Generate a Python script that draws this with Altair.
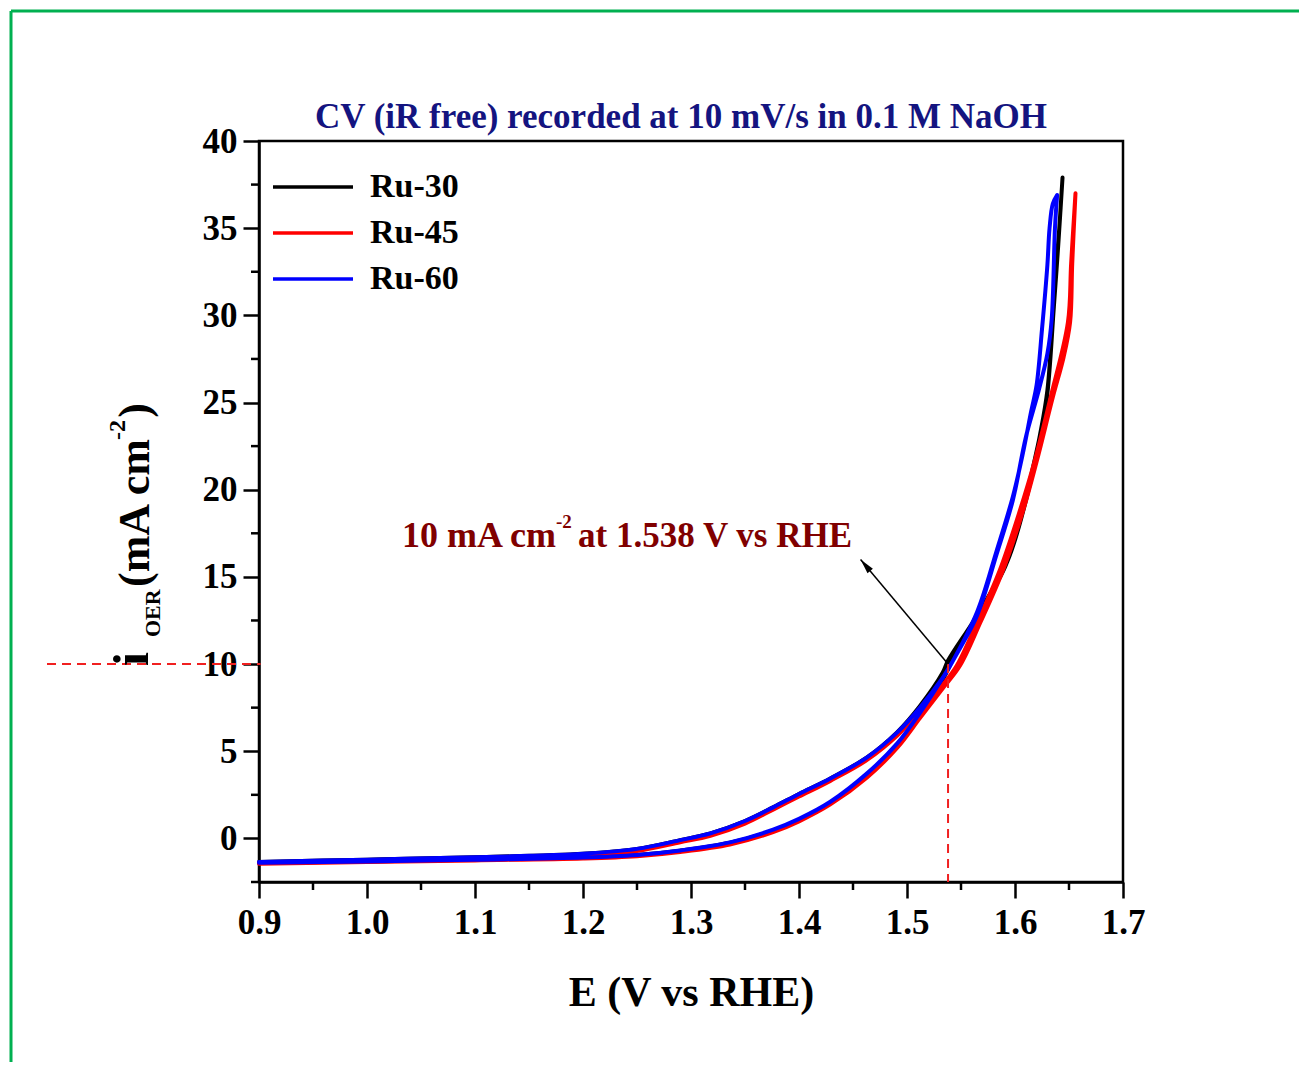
import altair as alt
import pandas as pd

# ---------------- data ----------------
series = ["Ru-30", "Ru-45", "Ru-60"]
colors = ["#000000", "#ff0000", "#0000ff"]

# Ru-30 (black): forward (lower) branch then reverse (upper) branch
ru30_E_fwd = [0.90, 1.00, 1.10, 1.20, 1.25, 1.29, 1.336, 1.376, 1.40, 1.429, 1.463, 1.491, 1.512, 1.533, 1.545, 1.565, 1.593, 1.611, 1.623, 1.630, 1.637, 1.641, 1.644]
ru30_i_fwd = [-1.40, -1.32, -1.22, -1.10, -0.95, -0.70, -0.25, 0.45, 1.07, 2.02, 3.65, 5.40, 7.10, 9.10, 10.6, 12.8, 15.9, 19.6, 23.1, 25.7, 31.9, 35.0, 37.9]
ru30_E_rev = [1.644, 1.640, 1.636, 1.629, 1.621, 1.609, 1.591, 1.563, 1.538, 1.533, 1.512, 1.491, 1.463, 1.429, 1.40, 1.376, 1.35, 1.318, 1.29, 1.25, 1.20, 1.10, 1.00, 0.90]
ru30_i_rev = [37.9, 34.0, 30.5, 25.0, 22.5, 19.3, 15.6, 12.6, 10.2, 9.5, 7.6, 6.1, 4.65, 3.44, 2.55, 1.78, 1.00, 0.29, -0.10, -0.60, -0.88, -1.08, -1.22, -1.35]

# Ru-45 (red)
ru45_E_fwd = [0.90, 1.00, 1.10, 1.20, 1.25, 1.29, 1.336, 1.376, 1.40, 1.429, 1.463, 1.491, 1.512, 1.533, 1.549, 1.568, 1.589, 1.608, 1.620, 1.635, 1.645, 1.651, 1.653, 1.656]
ru45_i_fwd = [-1.45, -1.36, -1.26, -1.15, -1.02, -0.78, -0.35, 0.36, 0.98, 1.95, 3.50, 5.20, 6.90, 8.60, 9.90, 12.4, 15.4, 18.9, 21.6, 25.3, 27.6, 29.6, 33.0, 37.0]
ru45_E_rev = [1.656, 1.652, 1.649, 1.633, 1.618, 1.605, 1.586, 1.565, 1.546, 1.533, 1.512, 1.491, 1.463, 1.429, 1.40, 1.376, 1.35, 1.318, 1.29, 1.25, 1.20, 1.10, 1.00, 0.90]
ru45_i_rev = [37.0, 33.0, 29.6, 25.3, 21.6, 18.9, 15.4, 12.4, 9.9, 8.8, 7.3, 5.9, 4.5, 3.3, 2.4, 1.65, 0.85, 0.15, -0.22, -0.72, -1.00, -1.18, -1.30, -1.40]

# Ru-60 (blue)
ru60_E_fwd = [0.90, 1.00, 1.10, 1.20, 1.25, 1.29, 1.336, 1.376, 1.40, 1.429, 1.463, 1.491, 1.512, 1.533, 1.55, 1.565, 1.583, 1.598, 1.610, 1.622, 1.630, 1.634, 1.637, 1.639]
ru60_i_fwd = [-1.40, -1.32, -1.22, -1.10, -0.95, -0.69, -0.23, 0.50, 1.12, 2.10, 3.73, 5.45, 7.20, 9.20, 11.0, 12.8, 16.3, 19.4, 23.0, 25.7, 27.8, 29.8, 35.0, 36.9]
ru60_E_rev = [1.639, 1.635, 1.632, 1.630, 1.625, 1.620, 1.615, 1.607, 1.598, 1.583, 1.565, 1.540, 1.533, 1.512, 1.491, 1.463, 1.429, 1.40, 1.376, 1.35, 1.318, 1.29, 1.25, 1.20, 1.15, 1.10, 1.00, 0.90]
ru60_i_rev = [36.9, 36.4, 35.0, 32.9, 29.2, 26.0, 24.5, 22.0, 19.6, 16.5, 13.0, 9.9, 9.2, 7.5, 6.08, 4.65, 3.44, 2.55, 1.78, 1.00, 0.29, -0.10, -0.60, -0.88, -1.00, -1.08, -1.22, -1.35]

x_major = [0.9, 1.0, 1.1, 1.2, 1.3, 1.4, 1.5, 1.6, 1.7]
x_minor = [0.95, 1.05, 1.15, 1.25, 1.35, 1.45, 1.55, 1.65]
y_major = [0, 5, 10, 15, 20, 25, 30, 35, 40]
y_minor = [-2.5, 2.5, 7.5, 12.5, 17.5, 22.5, 27.5, 32.5, 37.5]

ref_E = 1.538
ref_i = 10
arrow_E = 1.457
arrow_i = 16.0

title_text = "CV (iR free) recorded at 10 mV/s in 0.1 M NaOH"
x_title = "E (V vs RHE)"

# ---------------- build table ----------------
rows = []
for name, Ef, If, Er, Ir in [
    ("Ru-30", ru30_E_fwd, ru30_i_fwd, ru30_E_rev, ru30_i_rev),
    ("Ru-45", ru45_E_fwd, ru45_i_fwd, ru45_E_rev, ru45_i_rev),
    ("Ru-60", ru60_E_fwd, ru60_i_fwd, ru60_E_rev, ru60_i_rev),
]:
    k = 0
    for e, v in zip(Ef + Er, If + Ir):
        rows.append({"series": name, "order": k, "E": e, "i": v})
        k += 1
df = pd.DataFrame(rows)

FONT = "Liberation Serif"
W, H = 864, 741

xscale = alt.Scale(domain=[0.9, 1.7], nice=False, zero=False)
yscale = alt.Scale(domain=[-2.5, 40], nice=False, zero=False)

lines = alt.Chart(df).mark_line(strokeWidth=4, strokeJoin="round", strokeCap="round",
                                interpolate="catmull-rom").encode(
    x=alt.X("E:Q", scale=xscale,
            axis=alt.Axis(values=x_major, format=".1f", title=x_title, labelPadding=7,
                          labelFlush=False, titlePadding=32)),
    y=alt.Y("i:Q", scale=yscale,
            axis=alt.Axis(values=y_major, format="d", title=None, labelPadding=6,
                          labelFlush=False)),
    color=alt.Color("series:N", scale=alt.Scale(domain=series, range=colors),
                    legend=alt.Legend(orient="none", legendX=37, legendY=29, title=None,
                                      symbolType="M-4,0L4,0", symbolSize=400,
                                      symbolStrokeWidth=3.5, labelFont=FONT,
                                      labelFontSize=34, labelFontWeight="bold",
                                      labelColor="black", labelOffset=40,
                                      rowPadding=12, padding=0)),
    order=alt.Order("order:Q"),
    detail="series:N",
)

ymin_df = pd.DataFrame({"i": y_minor})
xmin_df = pd.DataFrame({"E": x_minor})
one = pd.DataFrame({"a": [0]})

y_minor_ticks = alt.Chart(ymin_df).mark_rule(color="black", strokeWidth=2.5).encode(
    y=alt.Y("i:Q", title=None), x=alt.value(-8), x2=alt.value(0))
x_minor_ticks = alt.Chart(xmin_df).mark_rule(color="black", strokeWidth=2.5).encode(
    x=alt.X("E:Q", title=x_title), y=alt.value(H), y2=alt.value(H + 8))

dash_h = alt.Chart(one).mark_rule(color="#f02020", strokeWidth=2, strokeDash=[9, 6]).encode(
    x=alt.value(-212), x2=alt.datum(ref_E), y=alt.datum(ref_i))
dash_v = alt.Chart(one).mark_rule(color="#f02020", strokeWidth=2, strokeDash=[9, 6]).encode(
    x=alt.datum(ref_E), y=alt.datum(ref_i), y2=alt.value(H))

arrow_line = alt.Chart(one).mark_rule(color="black", strokeWidth=1.5).encode(
    x=alt.datum(ref_E), y=alt.datum(ref_i), x2=alt.datum(arrow_E), y2=alt.datum(arrow_i))
arrow_head = alt.Chart(one).mark_point(
    shape="M0,0L-0.35,1.5L0.35,1.5Z", filled=True, color="black", size=400, angle=320, opacity=1
).encode(x=alt.datum(arrow_E), y=alt.datum(arrow_i))

ANN = "#800000"
ann1 = alt.Chart(one).mark_text(text="10 mA cm", font=FONT, fontSize=36, fontWeight="bold",
                                color=ANN, align="left", baseline="alphabetic").encode(
    x=alt.value(143), y=alt.value(406))
ann2 = alt.Chart(one).mark_text(text="-2", font=FONT, fontSize=19, fontWeight="bold",
                                color=ANN, align="left", baseline="alphabetic").encode(
    x=alt.value(297), y=alt.value(387))
ann3 = alt.Chart(one).mark_text(text="at 1.538 V vs RHE", font=FONT, fontSize=35, fontWeight="bold",
                                color=ANN, align="right", baseline="alphabetic").encode(
    x=alt.value(593), y=alt.value(406))

title_mark = alt.Chart(one).mark_text(text=title_text, font=FONT, fontSize=35, fontWeight="bold",
                                      color="#141480", align="center", baseline="alphabetic").encode(
    x=alt.value(422), y=alt.value(-13))

# y-axis title pieces (rotated)
def ytxt(t, size, x, y, align):
    return alt.Chart(one).mark_text(text=t, font=FONT, fontSize=size, fontWeight="bold",
                                    color="black", align=align, baseline="alphabetic",
                                    angle=270).encode(x=alt.value(x), y=alt.value(y))

yt1 = ytxt("i", 50, -111, 525, "left")
yt2 = ytxt("OER", 22, -99, 496, "left")
yt3 = ytxt("(mA cm", 44, -110, 446, "left")
yt4 = ytxt("-2", 24, -134, 299, "left")
yt5 = ytxt(")", 44, -110, 262, "right")

GREEN = "#00b050"
green_top = alt.Chart(one).mark_rule(color=GREEN, strokeWidth=3).encode(
    x=alt.value(-248), x2=alt.value(1048), y=alt.value(-130))
green_left = alt.Chart(one).mark_rule(color=GREEN, strokeWidth=3).encode(
    x=alt.value(-248), y=alt.value(-130), y2=alt.value(940))

chart = alt.layer(
    lines, y_minor_ticks, x_minor_ticks, dash_h, dash_v, arrow_line, arrow_head,
    ann1, ann2, ann3, title_mark, yt1, yt2, yt3, yt4, yt5, green_top, green_left
).properties(
    width=W, height=H,
    autosize=alt.AutoSizeParams(type="none"),
    padding={"left": 251, "top": 133, "right": 176, "bottom": 180},
).configure_view(
    stroke="black", strokeWidth=2.5
).configure_axis(
    domainColor="black", domainWidth=2.5, tickColor="black", tickWidth=2.5, tickSize=16,
    labelFont=FONT, labelFontSize=35, labelFontWeight="bold", labelColor="black",
    titleFont=FONT, titleFontSize=42, titleFontWeight="bold", titleColor="black",
    grid=False,
)

chart.save("out.html", embed_options={"renderer": "svg", "actions": False})
